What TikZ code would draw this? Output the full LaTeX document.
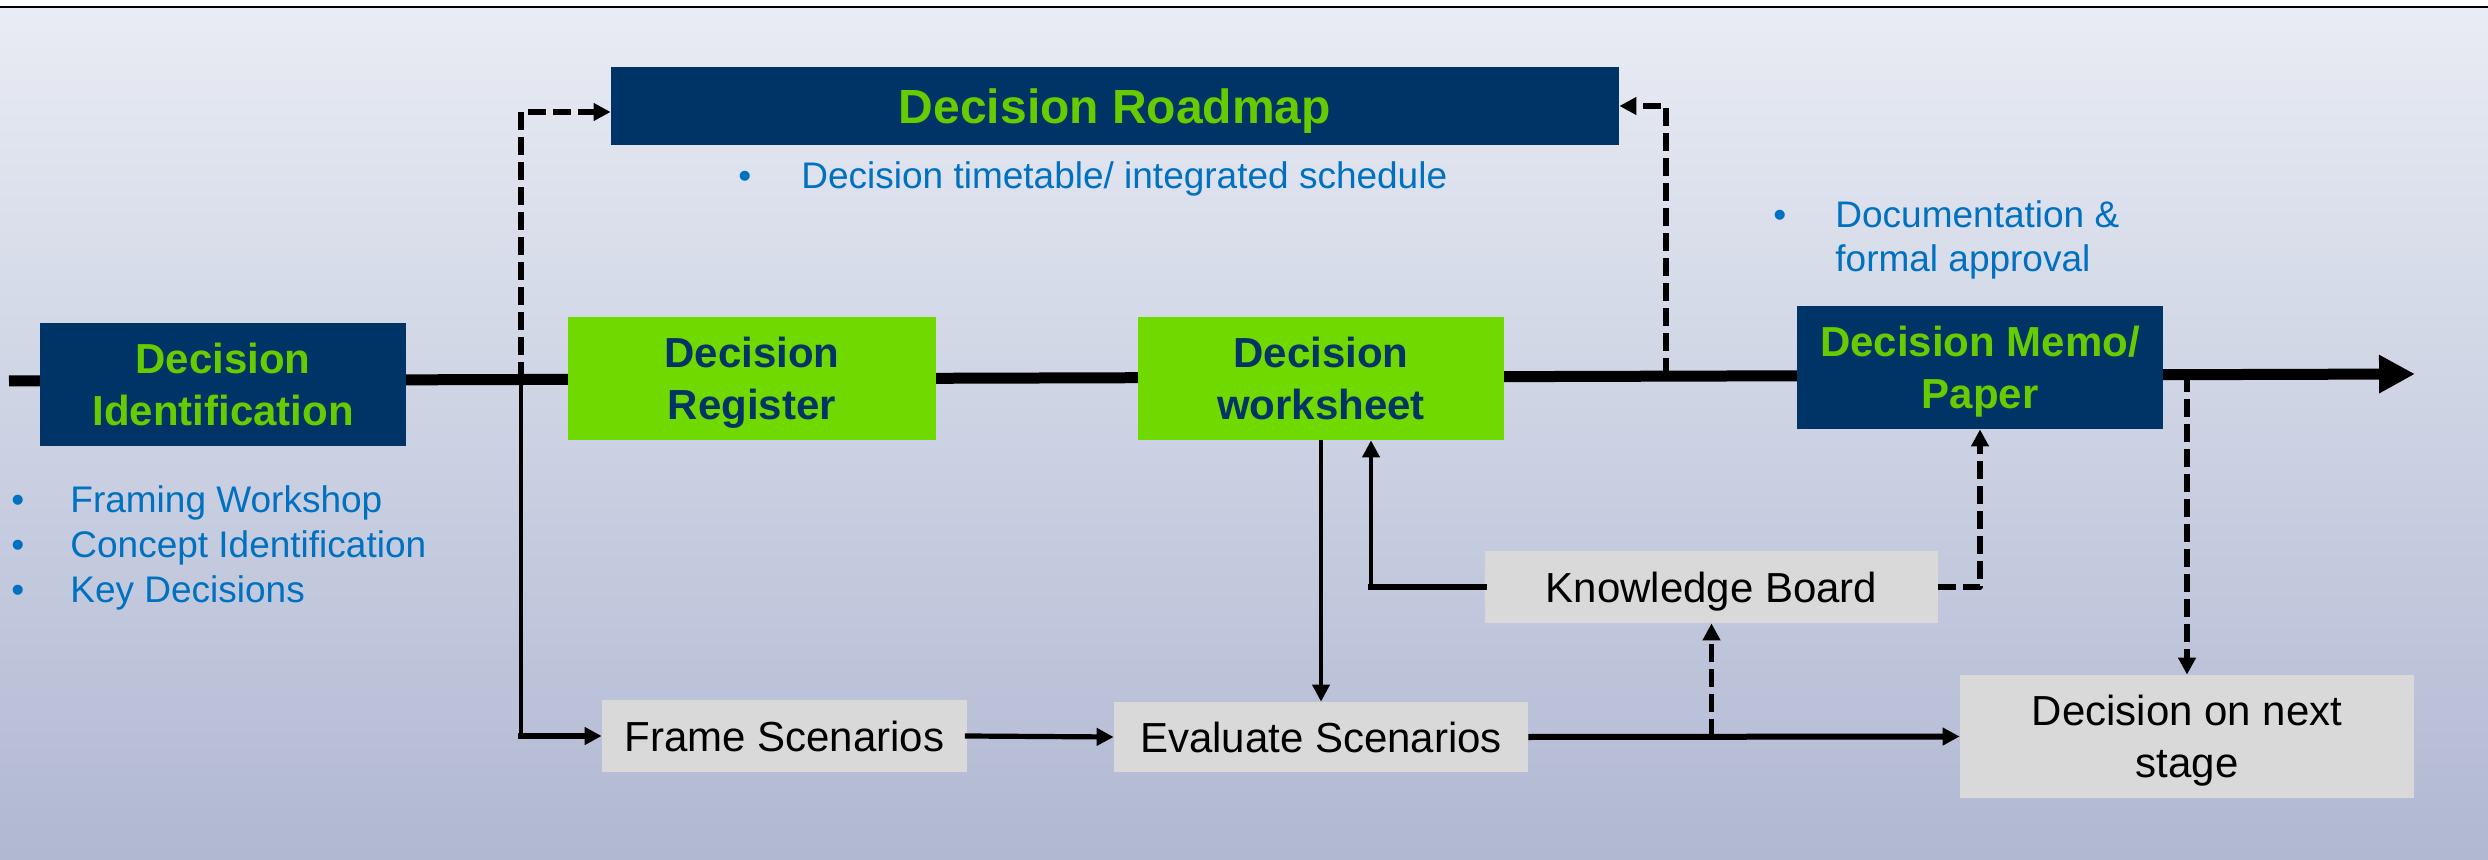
\documentclass[tikz,border=0pt]{standalone}
\usepackage{fontspec}
\setmainfont{Liberation Sans}
\usetikzlibrary{arrows.meta}
\definecolor{navy}{RGB}{0,51,102}
\definecolor{lgreen}{RGB}{111,217,0}
\definecolor{tgreen}{RGB}{102,204,0}
\definecolor{tblue}{RGB}{0,112,192}
\definecolor{gbox}{RGB}{217,217,217}
\definecolor{bgtop}{RGB}{233,236,244}
\definecolor{bgbot}{RGB}{176,184,210}
\begin{document}
\begin{tikzpicture}[x=0.5pt,y=-0.5pt,
  navybox/.style={fill=navy,text=tgreen,font=\fontsize{21}{26}\selectfont\bfseries,align=center,inner sep=0pt,text depth=0pt},
  greenbox/.style={fill=lgreen,text=navy,font=\fontsize{21}{26}\selectfont\bfseries,align=center,inner sep=0pt,text depth=0pt},
  graybox/.style={fill=gbox,text=black,font=\fontsize{21}{26}\selectfont,align=center,inner sep=0pt,text depth=0pt},
  btext/.style={text=tblue,font=\fontsize{18.5}{22.5}\selectfont,anchor=base west,inner sep=0pt},
  mainline/.style={line width=5.5pt,-{Triangle[length=18pt,width=18pt]}},
  solidh/.style={line width=2.6pt,line cap=rect},
  solidv/.style={line width=2pt},
  dashline/.style={line width=2.8pt,dash pattern=on 9pt off 3.5pt,line join=round},
  tip/.style={-{Triangle[length=8.5pt,width=8.5pt]}},
]
\useasboundingbox (0,0) rectangle (2488,860);
% background
\fill[white] (0,0) rectangle (2488,8);
\shade[top color=bgtop,bottom color=bgbot] (0,8) rectangle (2488,860);
\draw[line width=1.25pt] (0,6.8) -- (2488,6.8);

% main line
\coordinate (start) at (9,381);
\coordinate (end) at (2415,374);
\draw[mainline] (start) -- (end);

% boxes
\node[navybox,minimum width=183pt,minimum height=61.5pt] (ident) at (223,384.5) {Decision\\Identification};
\node[navybox,minimum width=504pt,minimum height=39pt,font=\fontsize{24}{28}\selectfont\bfseries] (roadmap) at (1115,106) {Decision Roadmap};
\node[greenbox,minimum width=184pt,minimum height=61.5pt] (register) at (752,378.5) {Decision\\Register};
\node[greenbox,minimum width=183pt,minimum height=61.5pt] (ws) at (1321,378.5) {Decision\\worksheet};
\node[navybox,minimum width=183pt,minimum height=61.5pt] (memo) at (1980,367.5) {Decision Memo/\\Paper};
\node[graybox,minimum width=182.5pt,minimum height=36pt] (frame) at (784.5,736) {Frame Scenarios};
\node[graybox,minimum width=207pt,minimum height=35pt] (eval) at (1321,737) {Evaluate Scenarios};
\node[graybox,minimum width=226.5pt,minimum height=36pt] (kb) at (1711.5,587) {Knowledge Board};
\node[graybox,minimum width=227pt,minimum height=61.5pt] (next) at (2187,736.5) {Decision on next\\stage};

% bullet texts
\node[btext] (b0) at (738,189) {•};
\node[btext] (t0) at (801,189) {Decision timetable/ integrated schedule};
\node[btext] (b1) at (1773,228) {•};
\node[btext] (t1) at (1835,228) {Documentation \&};
\node[btext] (t2) at (1835,272) {formal approval};
\node[btext] (b2) at (11,513) {•};
\node[btext] (t3) at (70,513) {Framing Workshop};
\node[btext] (b3) at (11,558) {•};
\node[btext] (t4) at (70,558) {Concept Identification};
\node[btext] (b4) at (11,603) {•};
\node[btext] (t5) at (70,603) {Key Decisions};

% junctions
\coordinate (j1) at (521,380);
\coordinate (j2) at (1666,376);
\coordinate (j4) at (next.north |- end);
\coordinate (c1) at (j1 |- frame.west);
\coordinate (c2) at ([xshift=25pt]ws.south |- kb.west);
\coordinate (j3) at (kb.south |- eval.east);

% connectors
\draw[dashline,tip] (j1) |- ([yshift=-3pt]roadmap.west);
\draw[dashline,tip] (j2) |- (roadmap.east);
\draw[solidv] (j1) -- (c1);
\draw[solidh,tip] (c1) -- (frame.west);
\draw[solidh,tip] (frame.east) -- (eval.west);
\draw[solidv,tip] (ws.south) -- (eval.north);
\draw[solidh] (kb.west) -- (c2);
\draw[solidv,tip] (c2) -- ([xshift=25pt]ws.south);
\draw[dashline,tip] (kb.east) -| (memo.south);
\draw[line width=3pt,tip] (eval.east) -- (next.west);
\draw[dashline,tip] (j3) -- (kb.south);
\draw[dashline,tip] (j4) -- (next.north);
\end{tikzpicture}
\end{document}
